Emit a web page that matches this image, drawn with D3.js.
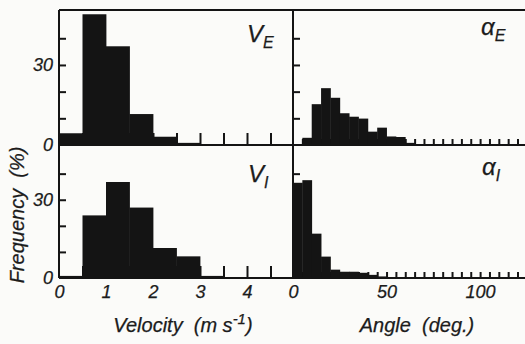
<!DOCTYPE html>
<html>
<head>
<meta charset="utf-8">
<script src="https://cdn.jsdelivr.net/npm/d3@7/dist/d3.min.js"></script>
<style>
  html, body { margin: 0; padding: 0; background: #fbfbf9; }
  svg { display: block; }
  text { font-family: "Liberation Sans", Arial, Helvetica, sans-serif; font-style: italic; fill: #1c1c1c; stroke: #1c1c1c; stroke-width: 0.25px; }
</style>
</head>
<body>
<svg id="chart" width="525" height="344"></svg>
<script>
// Histogram bins: velocity in 0.5 m/s steps, angle in 5 degree steps
const velocityEdges = [0, 0.5, 1, 1.5, 2, 2.5, 3, 3.5, 4, 4.5, 5];
const velocityE = [4.4, 49, 37, 11.6, 3.1, 0.8, 0, 0, 0, 0];
const velocityI = [0.8, 24, 36.8, 27, 11.5, 8.3, 0.8, 0, 0, 0];

const angleEdges = d3.range(0, 125, 5);
const angleE = [0, 2.7, 15.3, 21.3, 17.7, 11.9, 10.6, 9.9, 5, 6.5, 3.2, 3.0, 0.8];
const angleI = [36.5, 37.5, 17, 8.2, 3.2, 2.4, 2.4, 2.0, 1.2, 0.6];

const velocityTicks = [0.5, 1, 1.5, 2, 2.5, 3, 3.5, 4, 4.5];
const velocityLabels = [0, 1, 2, 3, 4];
const angleTicks = d3.range(5, 125, 5);
const angleLabels = [0, 50, 100];
const freqTicks = [10, 20, 30, 40];
const freqLabels = [0, 30];

const panelNames = { vE: "E", vI: "I", aE: "E", aI: "I" };

const svg = d3.select("#chart");
const ink = "#141414";

const xVel = d3.scaleLinear().domain([0, 5]).range([59, 294]);
const xAng = d3.scaleLinear().domain([0, 124]).range([293, 525]);
const yTop = d3.scaleLinear().domain([0, 50.6]).range([145, 10]);
const yBot = d3.scaleLinear().domain([0, 50.6]).range([278, 146]);

function bars(x, y, edges, values) {
  svg.append("g").selectAll("rect")
    .data(values.map((v, i) => ({ x0: edges[i], x1: edges[i + 1], v })))
    .join("rect")
    .attr("x", d => x(d.x0))
    .attr("width", d => x(d.x1) - x(d.x0) + 0.4)
    .attr("y", d => y(d.v))
    .attr("height", d => y(0) - y(d.v))
    .attr("fill", ink);
}

function innerTicksX(x, y, ticks, len) {
  const g = svg.append("g")
    .attr("transform", `translate(0,${y(0)})`)
    .call(d3.axisTop(x).tickValues(ticks).tickSize(len).tickFormat(""));
  g.select(".domain").remove();
  g.selectAll("line").attr("stroke", ink).attr("stroke-width", 2);
}

function innerTicksY(x0, y, len) {
  const g = svg.append("g")
    .attr("transform", `translate(${x0},0)`)
    .call(d3.axisRight(y).tickValues(freqTicks).tickSize(len).tickFormat(""));
  g.select(".domain").remove();
  g.selectAll("line").attr("stroke", ink).attr("stroke-width", 2);
}

// tick marks first, bars over them
innerTicksX(xVel, yTop, velocityTicks, 12);
innerTicksX(xVel, yBot, velocityTicks, 12);
innerTicksX(xAng, yTop, angleTicks, 6);
innerTicksX(xAng, yBot, angleTicks, 6);
innerTicksY(xVel(0), yTop, 7);
innerTicksY(xVel(0), yBot, 7);
innerTicksY(xAng(0), yTop, 7);
innerTicksY(xAng(0), yBot, 7);

bars(xVel, yTop, velocityEdges, velocityE);
bars(xVel, yBot, velocityEdges, velocityI);
bars(xAng, yTop, angleEdges, angleE);
bars(xAng, yBot, angleEdges, angleI);

// frame lines
const frame = svg.append("g").attr("stroke", ink).attr("stroke-width", 2).attr("fill", "none");
frame.append("line").attr("x1", xVel(0)).attr("x2", 525).attr("y1", yTop.range()[1]).attr("y2", yTop.range()[1]);
frame.append("line").attr("x1", xVel(0)).attr("x2", 525).attr("y1", yTop(0)).attr("y2", yTop(0));
frame.append("line").attr("x1", xVel(0)).attr("x2", 525).attr("y1", yBot(0)).attr("y2", yBot(0));
frame.append("line").attr("x1", xVel(0)).attr("x2", xVel(0)).attr("y1", yTop.range()[1]).attr("y2", yBot(0));
frame.append("line").attr("x1", xAng(0)).attr("x2", xAng(0)).attr("y1", yTop.range()[1]).attr("y2", yBot(0));

// tick labels
function labelsX(x, y, values) {
  const g = svg.append("g")
    .attr("transform", `translate(0,${y(0)})`)
    .call(d3.axisBottom(x).tickValues(values).tickSize(0).tickPadding(7).tickFormat(d3.format("d")));
  g.select(".domain").remove();
  g.selectAll("text").attr("font-size", 18).attr("font-family", null).attr("fill", null);
}
function labelsY(x0, y) {
  const g = svg.append("g")
    .attr("transform", `translate(${x0},0)`)
    .call(d3.axisLeft(y).tickValues(freqLabels).tickSize(0).tickPadding(6).tickFormat(d3.format("d")));
  g.select(".domain").remove();
  g.selectAll("text").attr("font-size", 18).attr("font-family", null).attr("fill", null);
}
labelsX(xVel, yBot, velocityLabels);
labelsX(xAng, yBot, angleLabels);
labelsY(xVel(0), yTop);
labelsY(xVel(0), yBot);

// panel names
function panelName(x0, y0, main, sub) {
  const t = svg.append("text").attr("x", x0).attr("y", y0).attr("font-size", 24).text(main);
  t.append("tspan").attr("font-size", 16).attr("dy", 6).text(sub);
}
panelName(247, 42, "V", panelNames.vE);
panelName(248, 182, "V", panelNames.vI);
panelName(481, 35, "\u03B1", panelNames.aE);
panelName(482, 175, "\u03B1", panelNames.aI);

// axis titles
svg.append("text")
  .attr("transform", "translate(24,215) rotate(-90)")
  .attr("text-anchor", "middle").attr("font-size", 20)
  .attr("xml:space", "preserve")
  .text("Frequency  (%)");

const vt = svg.append("text").attr("x", 183).attr("y", 332)
  .attr("text-anchor", "middle").attr("font-size", 20).attr("xml:space", "preserve");
vt.append("tspan").text("Velocity  (m s");
vt.append("tspan").attr("font-size", 15).attr("dy", -8).text("-1");
vt.append("tspan").attr("dy", 8).text(")");

svg.append("text").attr("x", 417).attr("y", 332)
  .attr("text-anchor", "middle").attr("font-size", 20).attr("xml:space", "preserve")
  .text("Angle  (deg.)");
</script>
</body>
</html>
